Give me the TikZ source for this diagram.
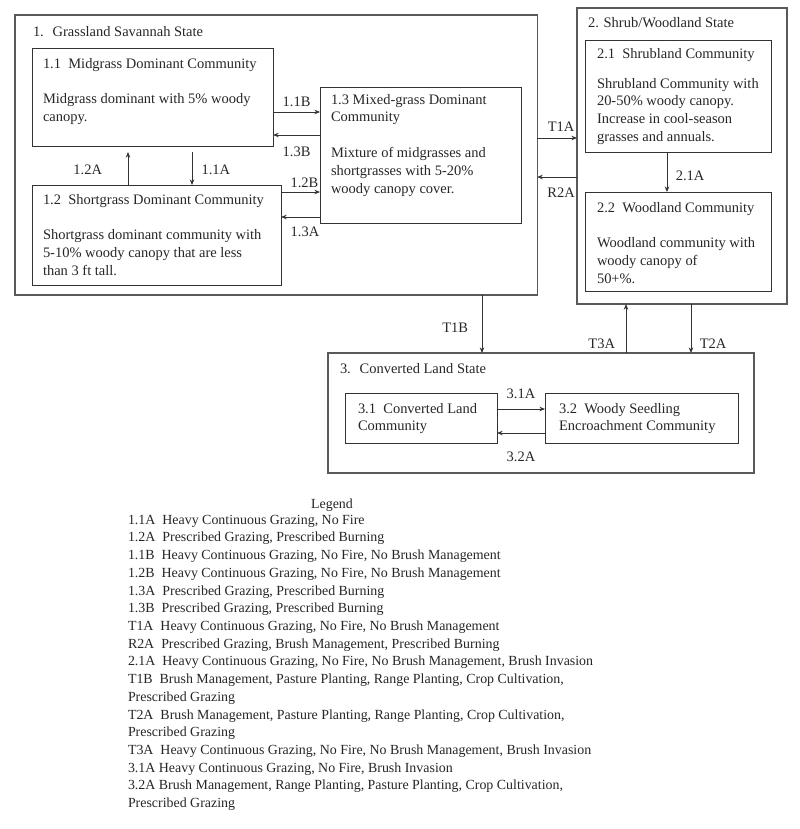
\documentclass[tikz,border=0pt]{standalone}
\usepackage{fontspec}
\setmainfont{Liberation Serif}
\usepackage{tikz}
\usetikzlibrary{arrows.meta}
\usetikzlibrary{positioning}
\tikzset{
% Define standard arrow tip
>={Stealth[length=4pt, width=3.2pt]}
}

\begin{document}
\begin{tikzpicture}[x=0.025cm, y=-0.025cm, inner sep=0, outer sep=0,
  text=black!85, font=\fontsize{10.3}{12.66}\selectfont,
  state/.style={rectangle, draw=black!65, line width=0.9pt, anchor=north west},
  community/.style={rectangle, draw=black!80, line width=0.7pt, anchor=north west},
  boxtext/.style={anchor=north west, align=left},
  arrow/.style={->, draw=black!80, line width=0.55pt}]
  \useasboundingbox (0,0) rectangle (800,829);

  % states and communities
  \node[state, minimum width=13.05cm, minimum height=7cm] (grass) at (15,15) {};
  \node[boxtext] (grass-text) at ([xshift=0.45cm, yshift=-0.275cm]grass.north west) {1.\hspace{0.22cm}Grassland Savannah State};

  \node[community, minimum width=6.025cm, minimum height=2.45cm] (mid) at (32,48) {};
  \node[boxtext] (mid-text) at ([xshift=0.275cm, yshift=-0.25cm]mid.north west)
    {1.1\ \ Midgrass Dominant Community\\[0.445cm]Midgrass dominant with 5\% woody\\canopy.};

  \node[community, minimum width=6.225cm, minimum height=2.5cm] (short) at (32,185) {};
  \node[boxtext] (short-text) at ([xshift=0.275cm, yshift=-0.225cm]short.north west)
    {1.2\ \ Shortgrass Dominant Community\\[0.445cm]Shortgrass dominant community with\\5-10\% woody canopy that are less\\than 3 ft tall.};

  \node[community, minimum width=5.025cm, minimum height=3.4cm] (mixed) at (320,87) {};
  \node[boxtext] (mixed-text) at ([xshift=0.275cm, yshift=-0.175cm]mixed.north west)
    {1.3 Mixed-grass Dominant\\Community\\[0.445cm]Mixture of midgrasses and\\shortgrasses with 5-20\%\\woody canopy cover.};

  \node[state, minimum width=5.25cm, minimum height=7.4cm] (shrub) at (577,8) {};
  \node[boxtext] (shrub-text) at ([xshift=0.275cm, yshift=-0.225cm]shrub.north west) {2. Shrub/Woodland State};

  \node[community, minimum width=4.65cm, minimum height=2.8cm] (shrubland) at (585,40) {};
  \node[boxtext] (shrubland-text) at ([xshift=0.3cm, yshift=-0.2cm]shrubland.north west)
    {2.1\ \ Shrubland Community\\[0.305cm]Shrubland Community with\\20-50\% woody canopy.\\Increase in cool-season\\grasses and annuals.};

  \node[community, minimum width=4.65cm, minimum height=2.475cm] (wood) at (585,192) {};
  \node[boxtext] (wood-text) at ([xshift=0.3cm, yshift=-0.25cm]wood.north west)
    {2.2\ \ Woodland Community\\[0.445cm]Woodland community with\\woody canopy of\\50+\%.};

  \node[state, minimum width=10.65cm, minimum height=3cm] (conv) at (328,353) {};
  \node[boxtext] (conv-text) at ([xshift=0.3cm, yshift=-0.25cm]conv.north west) {3.\hspace{0.22cm}Converted Land State};

  \node[community, minimum width=3.8cm, minimum height=1.25cm] (convland) at (345,393) {};
  \node[boxtext] (convland-text) at ([xshift=0.325cm, yshift=-0.25cm]convland.north west)
    {3.1\ \ Converted Land\\Community};

  \node[community, minimum width=4.825cm, minimum height=1.25cm] (seed) at (545,393) {};
  \node[boxtext] (seed-text) at ([xshift=0.35cm, yshift=-0.25cm]seed.north west)
    {3.2\ \ Woody Seedling\\Encroachment Community};

  % transitions inside state 1
  \draw[arrow] (mid.east |- 0,112) -- node[pos=0.5, above=0.135cm] {1.1B} (mixed.west |- 0,112);
  \draw[arrow] (mixed.west |- 0,135) -- node[pos=0.5, below=0.295cm] {1.3B} (mid.east |- 0,135);
  \draw[arrow, shorten >=0.15cm] (short.north -| 128,0) -- node[pos=0.385, left=0.65cm] {1.2A} (mid.south -| 128,0);
  \draw[arrow, shorten <=0.15cm] (mid.south -| 192,0) -- node[pos=0.615, right=0.24cm] {1.1A} (short.north -| 192,0);
  \draw[arrow] (short.east |- 0,192) -- node[pos=0.6, above=0.095cm] {1.2B} (mixed.west |- 0,192);
  \draw[arrow] (mixed.west |- 0,217) -- node[pos=0.385, below=0.245cm] {1.3A} (short.east |- 0,217);

  % transitions between states
  \draw[arrow] (grass.east |- 0,138) -- node[pos=0.6, above=0.16cm] {T1A} (shrub.west |- 0,138);
  \draw[arrow] (shrub.west |- 0,177) -- node[pos=0.4, below=0.27cm] {R2A} (grass.east |- 0,177);
  \draw[arrow] (shrubland.south -| 667,0) -- node[pos=0.59, right=0.22cm] {2.1A} (wood.north -| 667,0);
  \draw[arrow] (grass.south -| 482,0) -- node[pos=0.557, left=0.35cm] {T1B} (conv.north -| 482,0);
  \draw[arrow] (conv.north -| 626,0) -- node[pos=0.18, left=0.275cm] {T3A} (shrub.south -| 626,0);
  \draw[arrow] (shrub.south -| 691,0) -- node[pos=0.816, right=0.22cm] {T2A} (conv.north -| 691,0);
  \draw[arrow] (convland.east |- 0,409) -- node[pos=0.5, above=0.25cm] {3.1A} (seed.west |- 0,409);
  \draw[arrow] (seed.west |- 0,433) -- node[pos=0.5, below=0.47cm] {3.2A} (convland.east |- 0,433);

  % legend
  \node[anchor=base, font=\fontsize{9.9}{12.55}\selectfont] (legend-title) at (332,508) {Legend};
  \node[anchor=north west, align=left, font=\fontsize{9.9}{12.6}\selectfont] (legend) at (128,515) {%
    1.1A\ \ Heavy Continuous Grazing, No Fire\\
    1.2A\ \ Prescribed Grazing, Prescribed Burning\\
    1.1B\ \ Heavy Continuous Grazing, No Fire, No Brush Management\\
    1.2B\ \ Heavy Continuous Grazing, No Fire, No Brush Management\\
    1.3A\ \ Prescribed Grazing, Prescribed Burning\\
    1.3B\ \ Prescribed Grazing, Prescribed Burning\\
    T1A\ \ Heavy Continuous Grazing, No Fire, No Brush Management\\
    R2A\ \ Prescribed Grazing, Brush Management, Prescribed Burning\\
    2.1A\ \ Heavy Continuous Grazing, No Fire, No Brush Management, Brush Invasion\\
    T1B\ \ Brush Management, Pasture Planting, Range Planting, Crop Cultivation,\\
    Prescribed Grazing\\
    T2A\ \ Brush Management, Pasture Planting, Range Planting, Crop Cultivation,\\
    Prescribed Grazing\\
    T3A\ \ Heavy Continuous Grazing, No Fire, No Brush Management, Brush Invasion\\
    3.1A Heavy Continuous Grazing, No Fire, Brush Invasion\\
    3.2A Brush Management, Range Planting, Pasture Planting, Crop Cultivation,\\
    Prescribed Grazing};
\end{tikzpicture}
\end{document}
